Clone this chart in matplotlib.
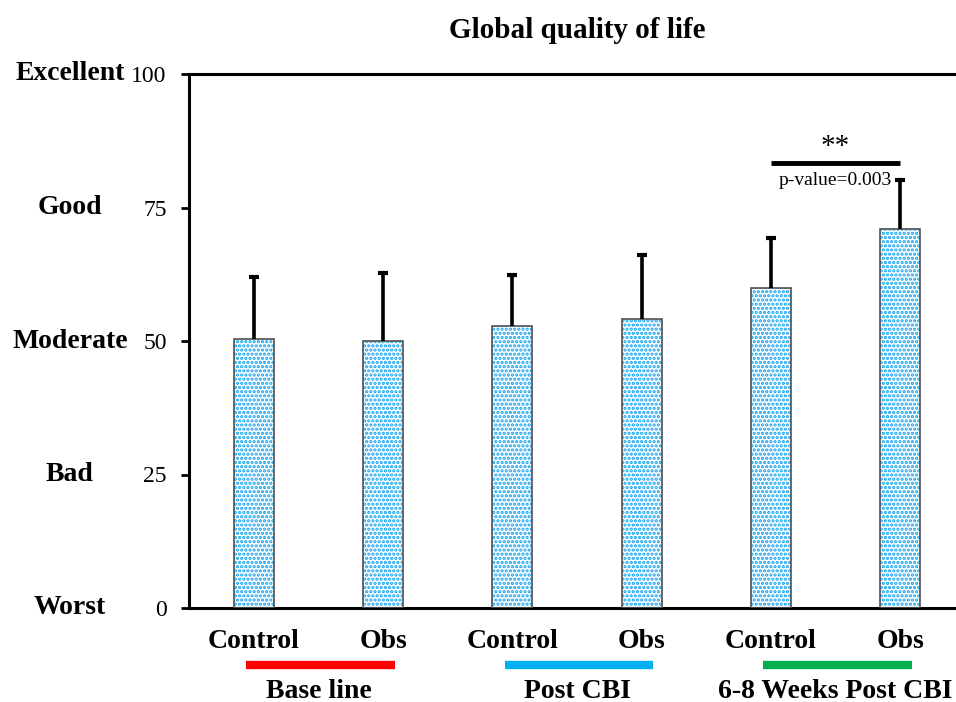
import matplotlib
matplotlib.use("Agg")
import matplotlib.pyplot as plt
import matplotlib.transforms as mtransforms

categories = ["Control", "Obs", "Control", "Obs", "Control", "Obs"]
means = [50.4, 50.0, 52.8, 54.1, 59.9, 71.0]
upper_err = [11.6, 12.7, 9.6, 12.0, 9.4, 9.1]
groups = ["Base line", "Post CBI", "6-8 Weeks Post CBI"]
group_colors = ["#FF0000", "#00B0F0", "#00B050"]
yticks = [0, 25, 50, 75, 100]
ylabels_words = ["Worst", "Bad", "Moderate", "Good", "Excellent"]
sig_text = "**"
p_text = "p-value=0.003"
sig_y = 83.3

plt.rcParams['font.family'] = ['Liberation Serif', 'DejaVu Serif']
plt.rcParams['hatch.linewidth'] = 1.6

fig = plt.figure(figsize=(9.56, 7.02), dpi=100)
W, H = 956, 702
px_unit = 129.2
x0px = 254
xmin, xmax = -0.503, 5.6
left = (x0px + xmin * px_unit) / W
right = (x0px + xmax * px_unit) / W
ax = fig.add_axes([left, 94 / H, right - left, 534 / H])
ax.set_xlim(xmin, xmax)
ax.set_ylim(0, 100)

x = list(range(len(categories)))
bw = 0.31
ax.bar(x, means, width=bw, color="white", edgecolor="#0FA3F0", hatch="....", linewidth=0, zorder=2)
ax.bar(x, means, width=bw, fill=False, edgecolor="#505050", linewidth=1.2, zorder=3)
tops = [m + e for m, e in zip(means, upper_err)]
ax.vlines(x, means, tops, colors="black", linewidth=2.6, zorder=4)
ax.plot(x, tops, linestyle="none", marker="_", markersize=7, markeredgewidth=3.0,
        color="black", zorder=4)

for s in ["top", "bottom", "left", "right"]:
    ax.spines[s].set_linewidth(2.2)
ax.spines["right"].set_visible(False)

ax.set_yticks(yticks)
ax.set_yticklabels([str(v) for v in yticks], fontsize=17)
ax.tick_params(axis="y", direction="out", length=6, width=2, pad=10)
ax.set_xticks([])

trans = mtransforms.blended_transform_factory(fig.transFigure, ax.transData)
for v, w in zip(yticks, ylabels_words):
    ax.text(70 / W, v, w, transform=trans, ha="center", va="center",
            fontsize=20, fontweight="bold")

# category labels
trans_x = mtransforms.blended_transform_factory(ax.transData, fig.transFigure)
for xi, c in zip(x, categories):
    ax.text(xi, 1 - 641 / H, c, transform=trans_x, ha="center", va="center",
            fontsize=20, fontweight="bold", clip_on=False)

# group lines and labels
for gi, (g, col) in enumerate(zip(groups, group_colors)):
    a, b = 2 * gi, 2 * gi + 1
    ax.plot([a - 0.06, b + 0.09], [1 - 665 / H] * 2, transform=trans_x, color=col,
            linewidth=6, clip_on=False, solid_capstyle="butt")
    ax.text((a + b) / 2, 1 - 691 / H, g, transform=trans_x, ha="center", va="center",
            fontsize=20, fontweight="bold", clip_on=False)

# significance
ax.plot([4, 5], [sig_y, sig_y], color="black", linewidth=3.5, solid_capstyle="butt", zorder=5)
ax.text(4.5, sig_y + 0.6, sig_text, ha="center", va="bottom", fontsize=21)
ax.text(4.5, sig_y - 1.6, p_text, ha="center", va="top", fontsize=14)

fig.text(577 / W, 1 - 31 / H, "Global quality of life", ha="center", va="center",
         fontsize=21, fontweight="bold")

fig.savefig("out.png", dpi=100)
